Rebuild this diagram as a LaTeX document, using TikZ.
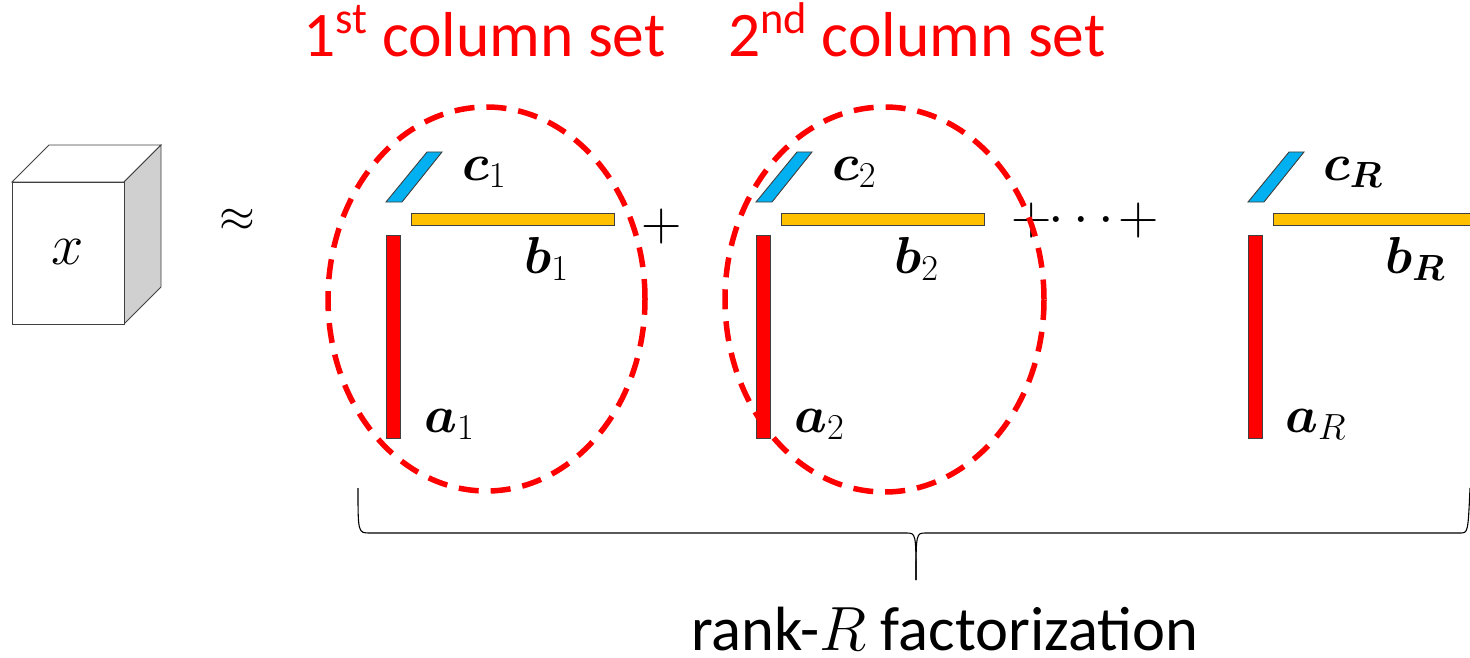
\RequirePackage{fix-cm}
\documentclass[tikz,border=0pt]{standalone}
\usepackage{amsmath}
\usepackage{fontspec}
\newfontfamily\calib{Carlito}
\definecolor{cyanf}{HTML}{00B0F0}
\definecolor{goldf}{HTML}{FFC000}
\definecolor{redf}{HTML}{FF0000}
\definecolor{edgec}{HTML}{404040}
\definecolor{sidec}{HTML}{D0D0D0}
\tikzset{
  outl/.style={draw=edgec, line width=0.9pt},
  cbar/.style={outl, fill=cyanf},
  bbar/.style={outl, fill=goldf},
  abar/.style={outl, fill=redf},
  lab/.style={inner sep=0pt, anchor=base west, font=\fontsize{52}{58}\selectfont},
  opnode/.style={inner sep=0pt, font=\fontsize{56}{60}\selectfont},
  setring/.style={draw=redf, line width=5.5pt, dash pattern=on 20pt off 12pt},
  title/.style={inner sep=0pt, anchor=base west, text=redf, font=\calib\fontsize{63.5}{68}\selectfont},
  brace/.style={draw=black, line width=1.1pt}
}
\begin{document}
\begin{tikzpicture}[x=1pt, y=-1pt]
\useasboundingbox (0,0) rectangle (1470,658);
% cube
\draw[outl, fill=white] (12,182) -- (49,145) -- (161,145) -- (124,182) -- cycle;
\draw[outl, fill=sidec] (124,182) -- (161,145) -- (161,287) -- (124,324) -- cycle;
\draw[outl, fill=white] (12,182) rectangle (124,324);
\node[inner sep=0pt, font=\fontsize{58}{62}\selectfont] (x) at (68,252) {$x$};
\node[inner sep=0pt, font=\fontsize{46}{50}\selectfont] (approx) at (237,220) {$\approx$};
% groups
\foreach \dx in {0, 370, 862}{
  \begin{scope}[xshift=\dx pt]
    \draw[cbar] (386,202) -- (402,202) -- (442,152) -- (427,152) -- cycle;
    \draw[bbar] (411,213) rectangle (614,225);
    \draw[abar] (386,235) rectangle (400,438);
  \end{scope}
}
\node[lab] (c1) at (462,180) {$\boldsymbol{c}_1$};
\node[lab] (b1) at (524,273) {$\boldsymbol{b}_1$};
\node[lab] (a1) at (424,432) {$\boldsymbol{a}_1$};
\node[lab] (c2) at (832,180) {$\boldsymbol{c}_2$};
\node[lab] (b2) at (894,273) {$\boldsymbol{b}_2$};
\node[lab] (a2) at (794,432) {$\boldsymbol{a}_2$};
\node[lab] (cR) at (1323,180) {$\boldsymbol{c}_{\boldsymbol{R}}$};
\node[lab] (bR) at (1385,273) {$\boldsymbol{b}_{\boldsymbol{R}}$};
\node[lab] (aR) at (1285,432) {$\boldsymbol{a}_R$};
% operators
\node[opnode] (plus1) at (662,227) {$+$};
\node[opnode] (plus2) at (1032,221) {$+$};
\node[opnode] (dots) at (1086,221) {$\cdots$};
\node[opnode] (plus3) at (1139,221) {$+$};
% dashed rings
\draw[setring] (486.5,299) ellipse [x radius=158.5pt, y radius=192pt];
\draw[setring] (884.5,299.5) ellipse [x radius=159.5pt, y radius=192.5pt];
% titles
\node[title] (t1) at (303,57) {1\textsuperscript{st} column set};
\node[title] (t2) at (728,57) {2\textsuperscript{nd} column set};
% brace
\coordinate (bl) at (358,488);
\coordinate (bm) at (916,580);
\coordinate (br) at (1470,488);
\draw[brace] (bl) .. controls (358,533) .. (370,533) -- (906,533) .. controls (916,533) .. (bm);
\draw[brace] (bm) .. controls (916,533) .. (926,533) -- (1460,533) .. controls (1468,533) .. (br);
\node[inner sep=0pt, anchor=base west, font=\calib\fontsize{62.5}{66}\selectfont] (rank) at (691,650) {rank-$R$ factorization};
\end{tikzpicture}
\end{document}
